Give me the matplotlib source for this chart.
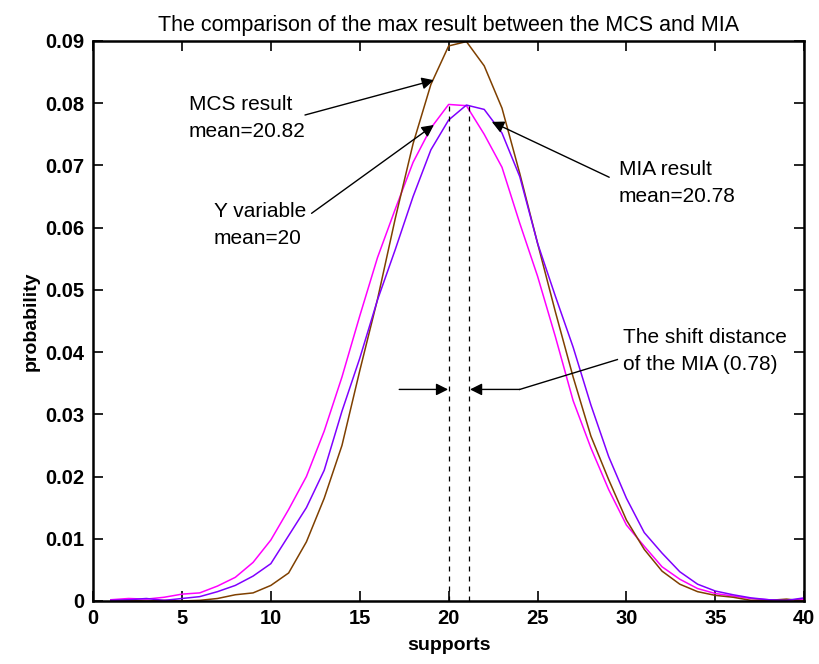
import numpy as np
import matplotlib
matplotlib.use('Agg')
import matplotlib.pyplot as plt

# supports (x axis)
supports = list(range(1, 41))

# Y variable distribution
y_var = [0.0002, 0.0004, 0.0003, 0.0006, 0.0011, 0.0013, 0.0024, 0.0038, 0.0062, 0.0098,
         0.0147, 0.0200, 0.0273, 0.0360, 0.0458, 0.0552, 0.0630, 0.0705, 0.0760, 0.0798,
         0.0796, 0.0750, 0.0697, 0.0607, 0.0522, 0.0425, 0.0322, 0.0246, 0.0179, 0.0122,
         0.0088, 0.0055, 0.0035, 0.0020, 0.0012, 0.0008, 0.0004, 0.0002, 0.0001, 0.0003]

# MCS result distribution
mcs = [0.0000, 0.0001, 0.0000, 0.0001, 0.0000, 0.0001, 0.0004, 0.0010, 0.0013, 0.0025,
       0.0045, 0.0095, 0.0165, 0.0250, 0.0370, 0.0485, 0.0615, 0.0735, 0.0830, 0.0892,
       0.0899, 0.0860, 0.0792, 0.0687, 0.0575, 0.0465, 0.0360, 0.0265, 0.0195, 0.0130,
       0.0083, 0.0048, 0.0027, 0.0015, 0.0009, 0.0006, 0.0001, 0.0001, 0.0003, 0.0000]

# MIA result distribution
mia = [0.0001, 0.0002, 0.0004, 0.0001, 0.0004, 0.0007, 0.0015, 0.0025, 0.0040, 0.0060,
       0.0105, 0.0150, 0.0210, 0.0305, 0.0390, 0.0484, 0.0565, 0.0650, 0.0725, 0.0773,
       0.0797, 0.0790, 0.0752, 0.0682, 0.0575, 0.0490, 0.0408, 0.0315, 0.0232, 0.0165,
       0.0110, 0.0077, 0.0047, 0.0027, 0.0016, 0.0010, 0.0005, 0.0002, 0.0001, 0.0005]

# positions of the two dashed markers (Y mean and shifted MIA peak)
mark_x = [20.0, 21.15]
mark_top = 0.0795

plt.rcParams['font.family'] = ['Liberation Sans', 'DejaVu Sans']

fig = plt.figure(figsize=(8.19, 6.64), dpi=100)
ax = fig.add_axes([0.1136, 0.0949, 0.8684, 0.8434])

ax.plot(supports, y_var, color='#ff00ff', lw=1.1)
ax.plot(supports, mcs, color='#7f4000', lw=1.1)
ax.plot(supports, mia, color='#8000ff', lw=1.1)

for mx in mark_x:
    ax.plot([mx, mx], [0, mark_top], color='k', ls=(0, (4, 4)), lw=0.9)

arrow = dict(arrowstyle='-|>', color='k', lw=1.0, mutation_scale=18, shrinkA=0, shrinkB=0)
txt = dict(fontsize=15, va='center', ha='left', linespacing=1.55)

ax.annotate('', xy=(19.17, 0.0837), xytext=(11.92, 0.0781), arrowprops=arrow)
ax.text(5.4, 0.0776, 'MCS result\nmean=20.82', **txt)

ax.annotate('', xy=(19.17, 0.0765), xytext=(12.29, 0.0623), arrowprops=arrow)
ax.text(6.8, 0.0604, 'Y variable\nmean=20', **txt)

ax.annotate('', xy=(22.43, 0.0770), xytext=(29.03, 0.0681), arrowprops=arrow)
ax.text(29.57, 0.0672, 'MIA result\nmean=20.78', **txt)

# shift distance arrows
ax.annotate('', xy=(19.97, 0.034), xytext=(17.22, 0.034), arrowprops=arrow)
ax.annotate('', xy=(21.2, 0.034), xytext=(24.0, 0.034), arrowprops=arrow)
ax.plot([24.0, 29.49], [0.034, 0.0388], color='k', lw=1.0)
ax.text(29.79, 0.0402, 'The shift distance\nof the MIA (0.78)', **txt)

ax.set_xlim(0, 40)
ax.set_ylim(0, 0.09)
ax.set_xticks(np.arange(0, 41, 5))
ax.set_yticks(np.arange(0, 0.0901, 0.01))
ax.set_yticklabels(['0', '0.01', '0.02', '0.03', '0.04', '0.05', '0.06', '0.07', '0.08', '0.09'])
ax.tick_params(direction='in', length=7, width=1.2, top=True, right=True,
               labelsize=14.5, pad=6)
for lab in ax.get_xticklabels() + ax.get_yticklabels():
    lab.set_fontweight('bold')
for sp in ax.spines.values():
    sp.set_linewidth(1.8)

ax.set_xlabel('supports', fontsize=14, fontweight='bold', labelpad=6)
ax.set_ylabel('probability', fontsize=14, fontweight='bold', labelpad=4)
ax.set_title('The comparison of the max result between the MCS and MIA', fontsize=15.5, pad=7)

plt.savefig('out.png', dpi=100)
